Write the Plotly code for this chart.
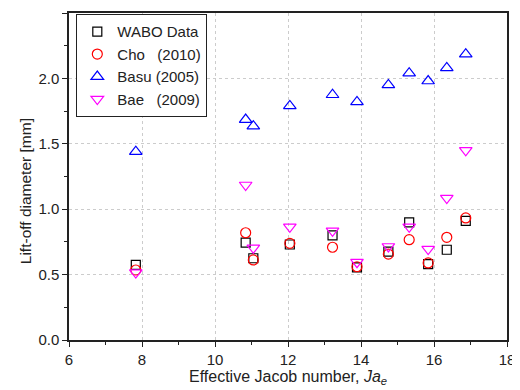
import plotly.graph_objects as go

ja_e = [7.83, 10.84, 11.05, 12.05, 13.22, 13.89, 14.75, 15.32, 15.84, 16.35, 16.87]
wabo = [0.575, 0.745, 0.625, 0.73, 0.80, 0.555, 0.675, 0.90, 0.58, 0.69, 0.91]
cho = [0.535, 0.82, 0.612, 0.739, 0.709, 0.56, 0.657, 0.767, 0.589, 0.785, 0.933]
basu = [1.44, 1.685, 1.635, 1.79, 1.875, 1.82, 1.95, 2.04, 1.98, 2.08, 2.185]
bae = [0.515, 1.185, 0.705, 0.865, 0.835, 0.595, 0.715, 0.865, 0.695, 1.085, 1.45]

series = [
    ("WABO Data", wabo, "square-open", "black", 9),
    ("Cho\u00a0\u00a0\u00a0(2010)", cho, "circle-open", "red", 10),
    ("Basu (2005)", basu, "triangle-up-open", "blue", 11),
    ("Bae\u00a0\u00a0\u00a0(2009)", bae, "triangle-down-open", "magenta", 11),
]

fig = go.Figure()
for name, vals, sym, col, sz in series:
    fig.add_trace(go.Scatter(
        x=ja_e, y=vals, mode="markers", name=name,
        marker=dict(symbol=sym, color=col, size=sz, line=dict(width=1.2, color=col)),
    ))

axis_common = dict(
    showline=True, linecolor="#222", linewidth=1.5, mirror=True,
    ticks="outside", ticklen=5, tickwidth=1.3, tickcolor="#222",
    showgrid=True, gridcolor="#cccccc", griddash="dot", gridwidth=1,
    zeroline=False, automargin=False,
    tickfont=dict(size=15, color="#222"),
)

fig.update_xaxes(
    range=[6, 18], dtick=2, tick0=6,
    minor=dict(ticks="outside", ticklen=3, dtick=1, tickcolor="#222", showgrid=False),
    title=dict(text="Effective Jacob number, <i>Ja</i><sub><i>e</i></sub>",
               font=dict(size=16, color="#222"), standoff=4),
    **axis_common,
)
fig.update_yaxes(
    range=[0, 2.5], dtick=0.5, tick0=0, tickformat=".1f",
    minor=dict(ticks="outside", ticklen=3, dtick=0.25, tickcolor="#222", showgrid=False),
    **axis_common,
)

# y-axis title placed as a rotated annotation (sits slightly below the plot centre in the reference)
fig.add_annotation(
    text="Lift-off diameter [mm]", textangle=-90,
    xref="paper", yref="paper", x=-0.1005, y=0.455,
    xanchor="center", yanchor="middle", showarrow=False,
    font=dict(size=15.5, color="#222"),
)

# page body has an 8px default margin, so the figure is sized to fit the 520x390 window
fig.update_layout(
    width=512, height=382,
    margin=dict(l=61, r=13, t=5, b=50),
    paper_bgcolor="white", plot_bgcolor="white",
    font=dict(family="Liberation Sans, Arial, sans-serif", color="#222"),
    showlegend=True,
    legend=dict(
        x=0.016, y=0.997, xanchor="left", yanchor="top",
        bordercolor="#222", borderwidth=1.3, bgcolor="white",
        font=dict(size=15, color="#222"),
        tracegroupgap=0,
    ),
)

fig.write_html("out.html")
